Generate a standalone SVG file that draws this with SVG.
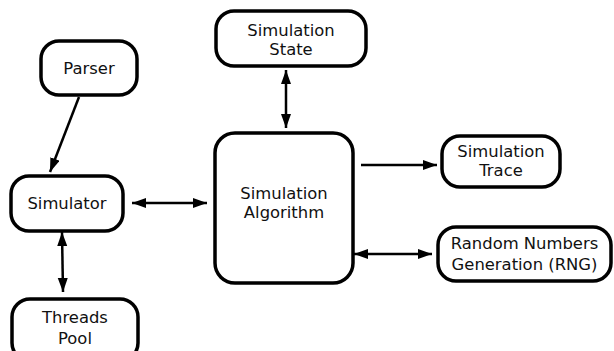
<svg xmlns="http://www.w3.org/2000/svg" width="614" height="351" viewBox="0 0 614 351">
<defs>
<marker id="ah" markerUnits="userSpaceOnUse" markerWidth="15" markerHeight="11" refX="14" refY="5" orient="auto-start-reverse" viewBox="0 0 15 11">
<path d="M0,0 L14,5 L0,10 z" fill="#000"/>
</marker>
<style>
.box{fill:#fff;stroke:#000;stroke-width:3.5}
.lbl{font-family:"DejaVu Sans",sans-serif;font-size:16.4px;fill:#111;text-anchor:middle}
.con{stroke:#000;stroke-width:2.5;fill:none}
</style>
</defs>
<rect width="614" height="351" fill="#fff"/>
<g id="parser"><rect class="box" x="41" y="41" width="96" height="54" rx="18"/><text class="lbl" x="89" y="74">Parser</text></g>
<g id="state"><rect class="box" x="216" y="11" width="150" height="55" rx="18"/><text class="lbl" x="291" y="35.5">Simulation</text><text class="lbl" x="291" y="55">State</text></g>
<g id="simulator"><rect class="box" x="11" y="176" width="112" height="55" rx="18"/><text class="lbl" x="67" y="209">Simulator</text></g>
<g id="algorithm"><rect class="box" x="215" y="133" width="138" height="150" rx="20"/><text class="lbl" x="284" y="198.5">Simulation</text><text class="lbl" x="284" y="218">Algorithm</text></g>
<g id="trace"><rect class="box" x="442" y="136" width="118" height="51" rx="18"/><text class="lbl" x="501" y="156.5">Simulation</text><text class="lbl" x="501" y="175.5">Trace</text></g>
<g id="rng"><rect class="box" x="438" y="227" width="173" height="54" rx="18"/><text class="lbl" x="524.5" y="249">Random Numbers</text><text class="lbl" x="524.5" y="269.5">Generation (RNG)</text></g>
<g id="threads"><rect class="box" x="12" y="299" width="126" height="62" rx="18"/><text class="lbl" x="75" y="322.5">Threads</text><text class="lbl" x="75" y="343.5">Pool</text></g>
<g id="connectors">
<line class="con" x1="79" y1="97" x2="50" y2="172" marker-end="url(#ah)"/>
<line class="con" x1="286" y1="70" x2="286" y2="128" marker-start="url(#ah)" marker-end="url(#ah)"/>
<line class="con" x1="62" y1="232" x2="63" y2="292" marker-start="url(#ah)" marker-end="url(#ah)"/>
<line class="con" x1="132" y1="203" x2="207" y2="203" marker-start="url(#ah)" marker-end="url(#ah)"/>
<line class="con" x1="361" y1="165" x2="437" y2="165" marker-end="url(#ah)"/>
<line class="con" x1="354" y1="254" x2="432" y2="254" marker-start="url(#ah)" marker-end="url(#ah)"/>
</g>
</svg>
